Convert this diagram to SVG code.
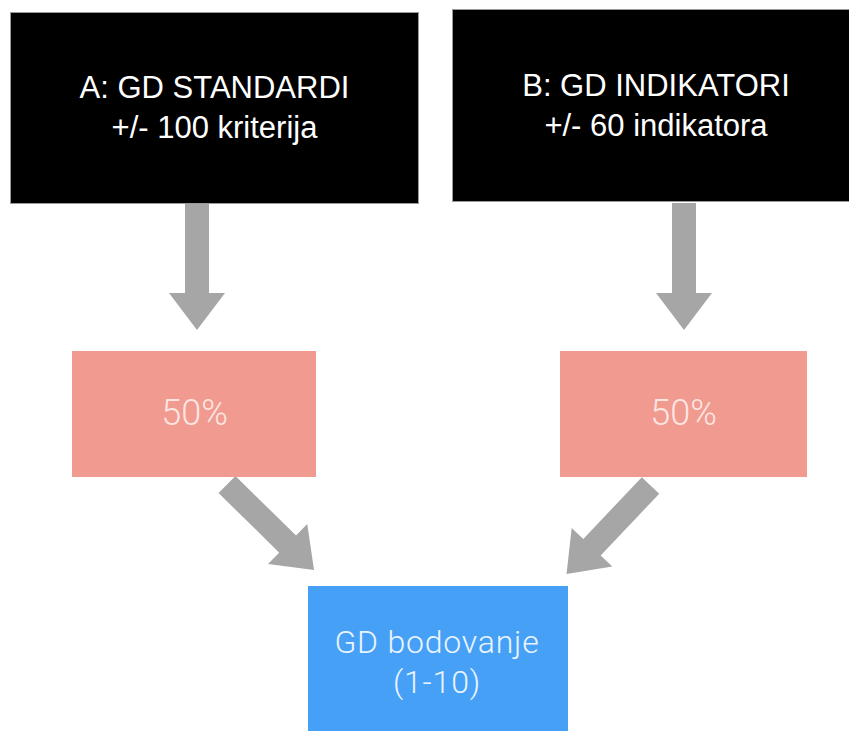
<svg xmlns="http://www.w3.org/2000/svg" width="849" height="731" viewBox="0 0 849 731">
<style>
.blk{fill:#000;stroke:#9a9a9a;stroke-width:1}
.pink{fill:#f19a8f}
.blue{fill:#46a0f6}
.arr{fill:#a6a6a6}
.t1{font-family:"Liberation Sans",Arial,sans-serif;font-size:31px;fill:#fff;text-anchor:middle}
.t2{font-family:Roboto,"Liberation Sans",sans-serif;font-weight:300;font-size:36px;fill:#fde6e2;text-anchor:middle}
.t3{font-family:Roboto,"Liberation Sans",sans-serif;font-weight:300;font-size:32px;letter-spacing:0.8px;fill:#eaf4ff;text-anchor:middle}
</style>
<defs>
<path id="dn" d="M0,-12 H90 V-28 L127,0 L90,28 V12 H0 Z"/>
<path id="dg" d="M0,-12 H85 V-28 L122,0 L85,28 V12 H0 Z"/>
</defs>
<rect width="849" height="731" fill="#fff"/>
<g id="connectors">
<use href="#dn" class="arr" transform="translate(197,203) rotate(90)"/>
<use href="#dn" class="arr" transform="translate(684,203) rotate(90)"/>
<use href="#dg" class="arr" transform="translate(227,484.5) rotate(44.5)"/>
<use href="#dg" class="arr" transform="translate(650.5,485.5) rotate(133.5)"/>
</g>
<g id="nodeA">
<rect class="blk" x="10.5" y="12.5" width="408" height="191"/>
<text class="t1" x="214.5" y="98">A: GD STANDARDI</text>
<text class="t1" x="214.5" y="138">+/- 100 kriterija</text>
</g>
<g id="nodeB">
<rect class="blk" x="452.5" y="9.5" width="408" height="192"/>
<text class="t1" x="656" y="96">B: GD INDIKATORI</text>
<text class="t1" x="656" y="136">+/- 60 indikatora</text>
</g>
<g id="pctA">
<rect class="pink" x="72" y="351" width="244" height="126"/>
<text class="t2" x="194.5" y="425">50%</text>
</g>
<g id="pctB">
<rect class="pink" x="560" y="351" width="247" height="126"/>
<text class="t2" x="683.5" y="425">50%</text>
</g>
<g id="score">
<rect class="blue" x="308" y="586" width="260" height="150"/>
<text class="t3" x="437" y="653">GD bodovanje</text>
<text class="t3" x="437" y="693">(1-10)</text>
</g>
</svg>
